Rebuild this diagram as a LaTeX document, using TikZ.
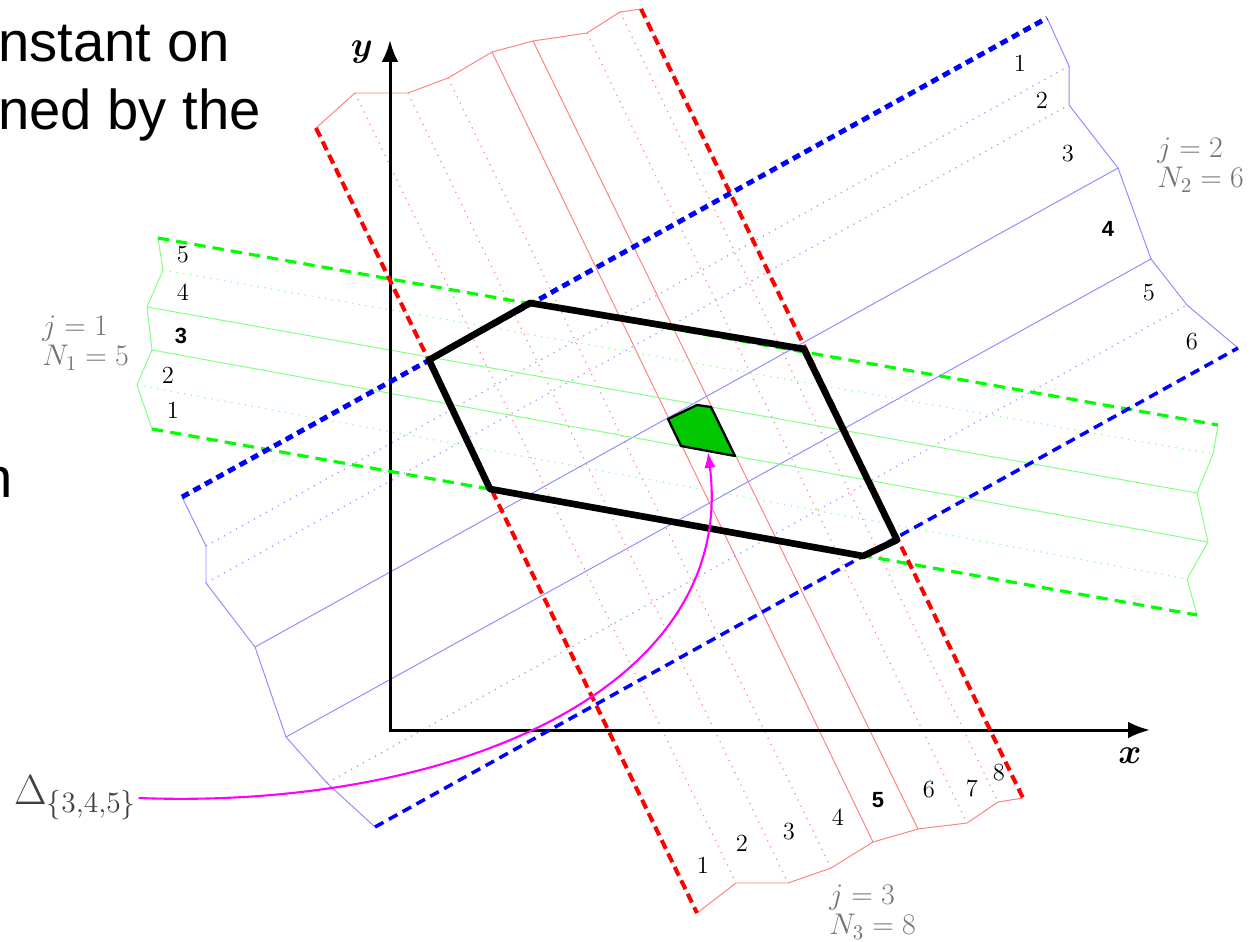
\documentclass[tikz,border=0pt]{standalone}
\usepackage{fix-cm}
\usepackage{amsmath}
\usepackage{fontspec}
\newfontfamily\slidefont{Liberation Sans}
\usetikzlibrary{arrows.meta}
\definecolor{pinkarrow}{RGB}{255,0,255}

\begin{document}
\begin{tikzpicture}[x=0.02cm,y=-0.02cm,line join=round,
  redline/.style={red!50,line width=0.55pt},
  reddot/.style={red!45,line width=0.7pt,dash pattern=on 0.7pt off 3.2pt},
  reddash/.style={red,line width=2.3pt,dash pattern=on 5.5pt off 3pt},
  blueline/.style={blue!45,line width=0.55pt},
  bluedot/.style={blue!40,line width=0.7pt,dash pattern=on 0.7pt off 3.2pt},
  bluedashtop/.style={blue,line width=2.8pt,dash pattern=on 4.5pt off 3pt},
  bluedashbot/.style={blue,line width=2pt,dash pattern=on 5.5pt off 3.5pt},
  greenline/.style={green!50,line width=0.55pt},
  greendot/.style={green!45,line width=0.7pt,dash pattern=on 0.7pt off 3.2pt},
  greendash/.style={green,line width=1.8pt,dash pattern=on 6.5pt off 4pt},
  num/.style={inner sep=0,font=\fontsize{14}{16}\selectfont},
  numbold/.style={inner sep=0,font=\slidefont\bfseries\fontsize{12.5}{15}\selectfont},
  bandlabel/.style={inner sep=0,align=left,text=black!55,font=\fontsize{17}{17.5}\selectfont},
  slide/.style={anchor=base west,inner sep=0,font=\slidefont\fontsize{32}{38}\selectfont}]
  \useasboundingbox (0,0) rectangle (1256,942);

  % texto de la diapositiva (cortado)
  \node[slide] (txta) at (-2,62) {nstant on};
  \node[slide] (txtb) at (-2,130) {ned by the};
  \node[slide] (txtc) at (-19,497) {n};

  % banda j=3 (roja)
  \draw[reddot] (355,93) -- (736,883);
  \draw[reddot] (408,93) -- (788,883);
  \draw[reddot] (448,78) -- (831,868);
  \draw[redline] (492,52) -- (873,842);
  \draw[redline] (533,41) -- (918,829);
  \draw[reddot] (587,33) -- (967,823);
  \draw[reddot] (620,12) -- (998,802);
  \draw[redline] (316,128) -- (355,93) -- (408,93) -- (448,78) -- (492,52) -- (533,41) -- (587,33) -- (620,12) -- (641,9);
  \draw[redline] (697,913) -- (736,883) -- (788,883) -- (831,868) -- (873,842) -- (918,829) -- (967,823) -- (998,802) -- (1023,798);

  % banda j=2 (azul)
  \draw[bluedot] (206,546) -- (1069,66);
  \draw[bluedot] (206,583) -- (1069,105);
  \draw[blueline] (255,647) -- (1118,168);
  \draw[blueline] (286,737) -- (1151,259);
  \draw[bluedot] (327,783) -- (1187,305);
  \draw[blueline] (182,497) -- (206,546) -- (206,583) -- (255,647) -- (286,737) -- (327,783) -- (375,827);
  \draw[blueline] (1047,18) -- (1069,66) -- (1069,105) -- (1118,168) -- (1151,259) -- (1187,305) -- (1238,348);

  % banda j=1 (verde)
  \draw[greendot] (163,270) -- (1213,454);
  \draw[greenline] (147,307) -- (1197,493);
  \draw[greenline] (152,350) -- (1208,542);
  \draw[greendot] (137,385) -- (1187,579);
  \draw[greenline] (158,238) -- (163,270) -- (147,307) -- (152,350) -- (137,385) -- (152,429);
  \draw[greenline] (1218,425) -- (1213,454) -- (1197,493) -- (1208,542) -- (1187,579) -- (1197,615);

  % ejes
  \coordinate (orig) at (390,730);
  \coordinate (xend) at (1150,730);
  \coordinate (yend) at (390,40);
  \draw[line width=1.7pt,line join=miter,{Latex[length=12.5pt,width=9.5pt]}-{Latex[length=12.5pt,width=9.5pt]}] (xend) -- (orig) -- (yend);
  \node[font=\fontsize{20}{22}\selectfont] (xlab) at (1130,756) {$\boldsymbol{x}$};
  \node[font=\fontsize{20}{22}\selectfont] (ylab) at (362,52) {$\boldsymbol{y}$};

  % bordes de las bandas
  \draw[greendash] (158,238) -- (1218,425);
  \draw[greendash] (152,429) -- (1197,615);
  \draw[reddash] (316,128) -- (697,913);
  \draw[reddash] (641,9) -- (1023,798);
  \draw[bluedashtop] (182,497) -- (1047,18);
  \draw[bluedashbot] (375,827) -- (1238,348);

  % poliedro y celda
  \draw[line width=3.8pt] (429,360) -- (530,303) -- (804,349) -- (897,540) -- (863,556) -- (490,489) -- cycle;
  \draw[line width=1.3pt,fill=green!78!black] (668,419) -- (697,405) -- (711,407) -- (735,456) -- (681,446) -- cycle;

  % numeros de franjas
  \node[num] (g5) at (183,255) {5};
  \node[num] (g4) at (183,292) {4};
  \node[numbold] (g3) at (181,336) {3};
  \node[num] (g2) at (168,375) {2};
  \node[num] (g1) at (173,410) {1};
  \node[num] (b1) at (1020,63) {1};
  \node[num] (b2) at (1042,100) {2};
  \node[num] (b3) at (1068,154) {3};
  \node[numbold] (b4) at (1108,229) {4};
  \node[num] (b5) at (1149,293) {5};
  \node[num] (b6) at (1192,342) {6};
  \node[num] (r1) at (703,865) {1};
  \node[num] (r2) at (742,843) {2};
  \node[num] (r3) at (789,832) {3};
  \node[num] (r4) at (838,817) {4};
  \node[numbold] (r5) at (878,800) {5};
  \node[num] (r6) at (929,790) {6};
  \node[num] (r7) at (972,788) {7};
  \node[num] (r8) at (999,773) {8};

  % rotulos j, N
  \node[bandlabel,anchor=west] (lab1) at (42,343) {$j=1$\\$N_1=5$};
  \node[bandlabel,anchor=west] (lab2) at (1157,165) {$j=2$\\$N_2=6$};
  \node[bandlabel,anchor=west] (lab3) at (829,912) {$j=3$\\$N_3=8$};

  % flecha a la celda
  \node[anchor=west,inner sep=1pt,text=black!75,font=\fontsize{24}{27}\selectfont] (delta) at (12,798) {$\Delta_{\{3,4,5\}}$};
  \coordinate (cell) at (708,452);
  \draw[pinkarrow,line width=1.2pt,-{Latex[length=9pt,width=6.5pt]}] (delta.east) .. controls (450,810) and (738,690) .. (cell);
\end{tikzpicture}
\end{document}
